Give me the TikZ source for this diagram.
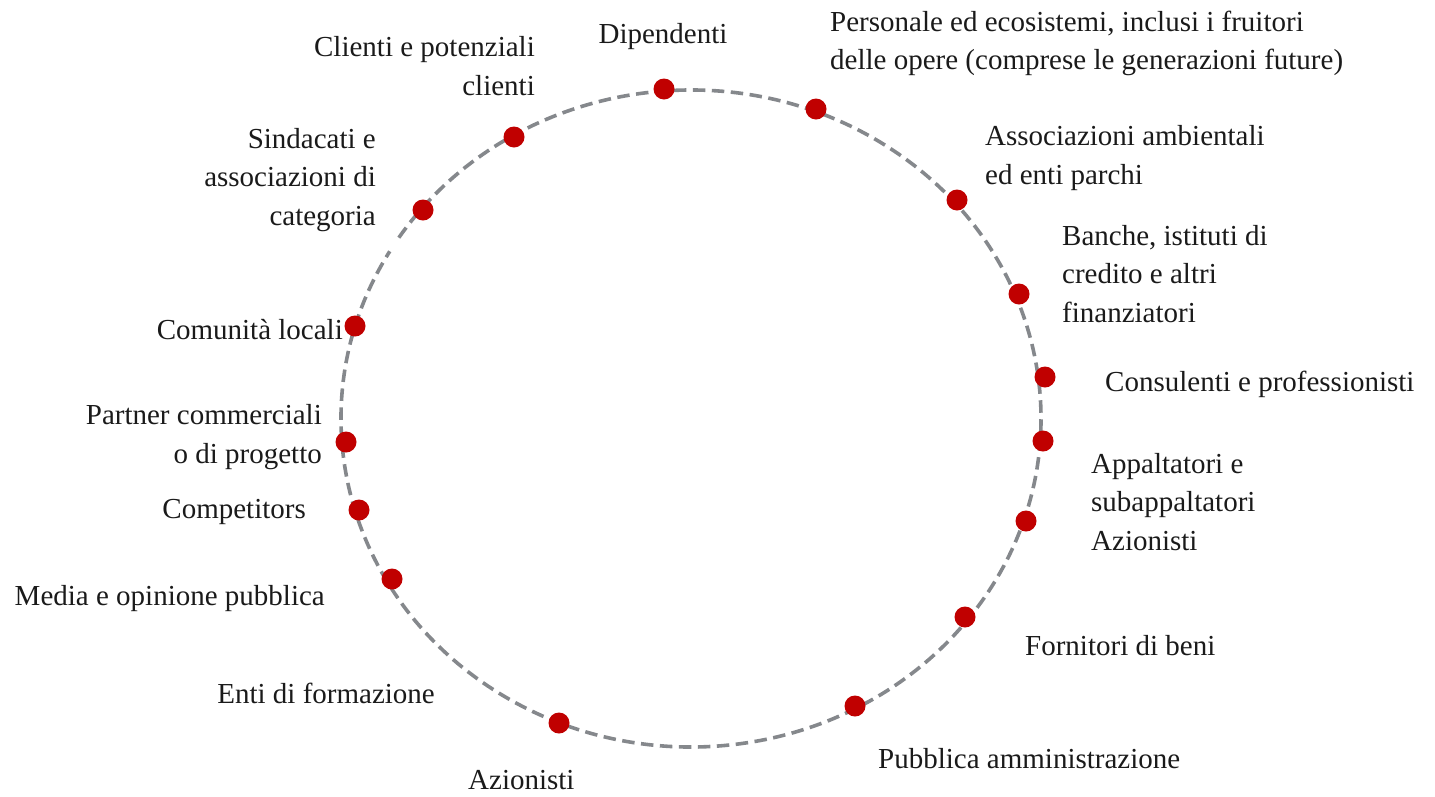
\documentclass[tikz,border=0pt]{standalone}
\usepackage{fontspec}
\setmainfont{Liberation Serif}
\definecolor{ringgray}{HTML}{85888C}
\definecolor{dotred}{HTML}{C00000}
\definecolor{txt}{HTML}{1A1A1A}
\tikzset{
  ring/.style={draw=ringgray, line width=3.6pt, dash pattern=on 12.5pt off 6.5pt},
  dot/.style={circle, fill=dotred, inner sep=0pt, minimum size=21pt},
  lab/.style={inner sep=0pt, text=txt, font=\fontsize{29}{38.5}\selectfont},
  labR/.style={lab, align=right, anchor=base east},
  labL/.style={lab, align=left, anchor=base west}
}
\begin{document}
\begin{tikzpicture}[x=1pt,y=-1pt]
\useasboundingbox (0,0) rectangle (1435,796);
% ring (small gap near the left upper part, as in the reference)
\draw[ring] (691,418.5) ++(213.4:350 and 328.5) arc[start angle=213.4, end angle=570.6, x radius=350, y radius=328.5];
% dots
\node[dot] (dDip) at (664,89) {};
\node[dot] (dPer) at (816,109) {};
\node[dot] (dAss) at (957,200) {};
\node[dot] (dBan) at (1019,294) {};
\node[dot] (dCon) at (1045,377) {};
\node[dot] (dApp) at (1043,441) {};
\node[dot] (dAzi) at (1026,521) {};
\node[dot] (dFor) at (965,617) {};
\node[dot] (dPub) at (855,706) {};
\node[dot] (dEnt) at (559,723) {};
\node[dot] (dMed) at (392,579) {};
\node[dot] (dCom) at (359,510) {};
\node[dot] (dPar) at (346,442) {};
\node[dot] (dLoc) at (355,326) {};
\node[dot] (dSin) at (423,210) {};
\node[dot] (dCli) at (514,137) {};
% labels (base anchor = baseline of the last line)
\node[lab, anchor=base] (lDip) at (663,43) {Dipendenti};
\node[labR] (lCli) at (535,95) {Clienti e potenziali\\clienti};
\node[labL] (lPer) at (830,69.5) {Personale ed ecosistemi, inclusi i fruitori\\delle opere (comprese le generazioni future)};
\node[labR] (lSin) at (376,225) {Sindacati e\\associazioni di\\categoria};
\node[labL] (lAss) at (985,184) {Associazioni ambientali\\ed enti parchi};
\node[labL] (lBan) at (1062,322) {Banche, istituti di\\credito e altri\\finanziatori};
\node[labR] (lLoc) at (343,339) {Comunità locali};
\node[labL] (lCon) at (1105,391) {Consulenti e professionisti};
\node[labR] (lPar) at (322,463) {Partner commerciali\\o di progetto};
\node[labL] (lApp) at (1091,550) {Appaltatori e\\subappaltatori\\Azionisti};
\node[labR] (lCom) at (306,518) {Competitors};
\node[labR] (lMed) at (325,605) {Media e opinione pubblica};
\node[labL] (lFor) at (1025,655) {Fornitori di beni};
\node[labR] (lEnt) at (435,703) {Enti di formazione};
\node[labL] (lPub) at (878,768) {Pubblica amministrazione};
\node[labL] (lAzi) at (468,789) {Azionisti};
\end{tikzpicture}
\end{document}
